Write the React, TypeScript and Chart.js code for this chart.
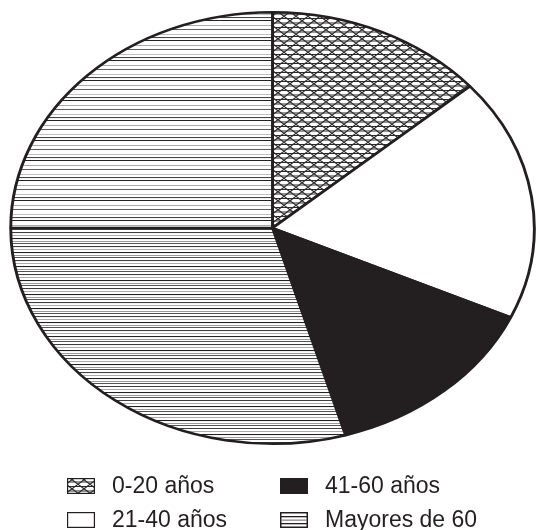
import React, { useEffect, useRef } from 'react';
import { Chart, registerables } from 'chart.js';

Chart.register(...registerables);

// Segments clockwise from 12 o'clock
const segmentLabels = ['0-20 años', '21-40 años', '41-60 años', 'Mayores de 60', 'Mayores de 60'];
const segmentValues = [13.6, 18.2, 13.7, 29.5, 25.0];
const segmentFills = ['honeycomb', 'white', 'black', 'linesDense', 'linesSparse'];

// Legend, column-major order
const legendLabels = ['0-20 años', '21-40 años', '41-60 años', 'Mayores de 60'];
const legendFills = ['honeycomb', 'white', 'black', 'linesLegend'];

const INK = '#231f20';
const SX = 262 / 216; // horizontal stretch of the ellipse

function makeTile(w: number, h: number, draw: (c: CanvasRenderingContext2D) => void) {
  const cv = document.createElement('canvas');
  cv.width = w;
  cv.height = h;
  const c = cv.getContext('2d')!;
  c.fillStyle = '#ffffff';
  c.fillRect(0, 0, w, h);
  draw(c);
  return cv;
}

function makePatterns(ctx: CanvasRenderingContext2D) {
  const honey = makeTile(12, 9, (c) => {
    c.strokeStyle = '#2b2b2b';
    c.lineWidth = 1.2;
    const hex = (ox: number, oy: number) => {
      c.beginPath();
      c.moveTo(ox + 3, oy + 0.5);
      c.lineTo(ox + 9, oy + 0.5);
      c.lineTo(ox + 12, oy + 2.75);
      c.lineTo(ox + 9, oy + 5);
      c.lineTo(ox + 3, oy + 5);
      c.lineTo(ox + 0, oy + 2.75);
      c.closePath();
      c.stroke();
    };
    for (let dx = -12; dx <= 12; dx += 12) {
      hex(dx, 0);
      hex(dx, 9);
      hex(dx, -9);
      hex(dx + 6, 4.5);
      hex(dx + 6, -4.5);
    }
  });
  const dense = makeTile(8, 14, (c) => {
    const rows: [number, string][] = [[0, '#222'], [3, '#9a9a9a'], [5, '#555'], [8, '#333'], [11, '#aaa']];
    rows.forEach(([y, col]) => { c.fillStyle = col; c.fillRect(0, y, 8, 1); });
  });
  const sparse = makeTile(8, 20, (c) => {
    const rows: [number, string][] = [[0, '#222'], [5, '#aaa'], [9, '#555'], [14, '#bbb'], [17, '#444']];
    rows.forEach(([y, col]) => { c.fillStyle = col; c.fillRect(0, y, 8, 1); });
  });
  const pHoney = ctx.createPattern(honey, 'repeat')!;
  const pHoneyPlain = ctx.createPattern(honey, 'repeat')!;
  try {
    pHoney.setTransform(new DOMMatrix([1 / SX, 0, 0, 1, 0, 0]));
  } catch (e) { /* ignore */ }
  return {
    honeycomb: pHoney,
    honeycombLegend: pHoneyPlain,
    white: '#ffffff',
    black: INK,
    linesDense: ctx.createPattern(dense, 'repeat')!,
    linesSparse: ctx.createPattern(sparse, 'repeat')!,
  } as Record<string, any>;
}

const ellipsePlugin = {
  id: 'ellipse',
  beforeDatasetsDraw(chart: any) {
    const arc = chart.getDatasetMeta(0).data[0];
    if (!arc) return;
    const ctx = chart.ctx;
    ctx.save();
    ctx.translate(arc.x, arc.y);
    ctx.scale(SX, 1);
    ctx.translate(-arc.x, -arc.y);
  },
  afterDatasetsDraw(chart: any) {
    chart.ctx.restore();
  },
};

function makeLegendPlugin(patterns: Record<string, any>) {
  return {
    id: 'gridLegend',
    afterDraw(chart: any) {
      const ctx: CanvasRenderingContext2D = chart.ctx;
      const colX = [67, 280];
      const rowY = [486, 519.5];
      const boxW = 28;
      const boxH = 16;
      ctx.save();
      ctx.font = '23px "Liberation Sans", Arial, Helvetica, sans-serif';
      ctx.textBaseline = 'middle';
      ctx.fillStyle = INK;
      legendLabels.forEach((label, i) => {
        const col = Math.floor(i / 2);
        const row = i % 2;
        const x = colX[col];
        const y = rowY[row];
        const bx = x;
        const by = Math.round(y - boxH / 2);
        const fill = legendFills[i];
        if (fill === 'black') {
          ctx.fillStyle = INK;
          ctx.fillRect(bx, by, boxW, boxH);
        } else if (fill === 'honeycomb') {
          ctx.fillStyle = patterns.honeycombLegend;
          ctx.fillRect(bx, by, boxW, boxH);
          ctx.strokeStyle = INK;
          ctx.lineWidth = 1.2;
          ctx.strokeRect(bx + 0.6, by + 0.6, boxW - 1.2, boxH - 1.2);
        } else if (fill === 'linesLegend') {
          ctx.fillStyle = '#fff';
          ctx.fillRect(bx, by, boxW, boxH);
          ctx.strokeStyle = INK;
          ctx.lineWidth = 1.5;
          ctx.strokeRect(bx + 0.75, by + 0.75, boxW - 1.5, boxH - 1.5);
          [4, 7.5, 11].forEach((dy, k) => {
            ctx.fillStyle = k === 1 ? '#888' : INK;
            ctx.fillRect(bx + 1, by + dy, boxW - 2, 1.3);
          });
        } else {
          ctx.fillStyle = '#fff';
          ctx.fillRect(bx, by, boxW, boxH);
          ctx.strokeStyle = INK;
          ctx.lineWidth = 1.2;
          ctx.strokeRect(bx + 0.6, by + 0.6, boxW - 1.2, boxH - 1.2);
        }
        ctx.fillStyle = INK;
        ctx.fillText(label, x + 45, y + 1);
      });
      ctx.restore();
    },
  };
}

export default function App() {
  const ref = useRef<HTMLCanvasElement>(null);
  useEffect(() => {
    const canvas = ref.current!;
    const ctx = canvas.getContext('2d')!;
    const patterns = makePatterns(ctx);
    const chart = new Chart(canvas, {
      type: 'pie',
      data: {
        labels: segmentLabels,
        datasets: [
          {
            data: segmentValues,
            backgroundColor: segmentFills.map((f) => patterns[f]),
            borderColor: INK,
            borderWidth: 2.4,
            hoverOffset: 0,
            offset: 0,
          },
        ],
      },
      options: {
        responsive: false,
        animation: false,
        events: [],
        devicePixelRatio: 1,
        layout: { padding: { left: 55.5, right: 46.5, top: 11, bottom: 85 } },
        plugins: {
          legend: { display: false },
          tooltip: { enabled: false },
        },
      },
      plugins: [ellipsePlugin, makeLegendPlugin(patterns)],
    });
    return () => chart.destroy();
  }, []);
  return (
    <div style={{ position: 'absolute', left: 0, top: 0, width: 536, height: 530, background: '#fff' }}>
      <canvas ref={ref} width={536} height={530} style={{ display: 'block', width: 536, height: 530 }} />
    </div>
  );
}
